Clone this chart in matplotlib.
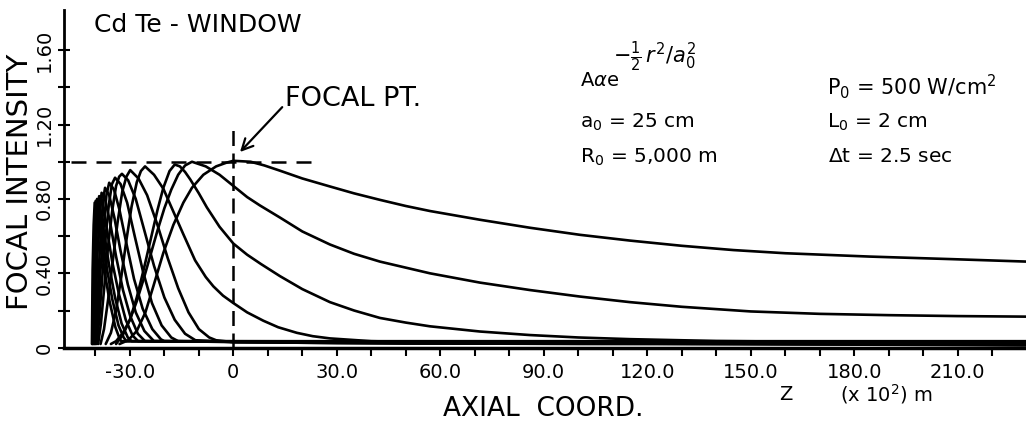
import matplotlib
matplotlib.use("Agg")
import matplotlib.pyplot as plt
from matplotlib.ticker import FixedLocator, FuncFormatter

# Axial intensity profiles, one per 2.5 s step (z in units of 100 m)
P0_Z = [-33, -30.5, -28, -25.5, -23.2, -20.3, -17.4, -14.5, -12, -8.7, -5, -2, 0, 5, 9, 13.5,
        20, 28, 35, 42.5, 50, 57, 71.5, 86, 100.5, 115, 130, 145, 160, 184.5, 208.7, 230]
P0_I = [0.02, 0.04, 0.09, 0.19, 0.33, 0.51, 0.66, 0.78, 0.86, 0.93, 0.975, 0.995, 1.005, 1.0,
        0.98, 0.952, 0.91, 0.867, 0.83, 0.795, 0.762, 0.735, 0.688, 0.645, 0.607, 0.576, 0.548,
        0.525, 0.508, 0.49, 0.476, 0.463]

P1_Z = [-35.5, -34, -32, -30, -28, -26, -24, -22, -20, -18, -16, -14, -12, -8, -4, 0, 4, 7.7,
        13.5, 20, 28, 35, 42.5, 57, 71.5, 86, 100.5, 115, 130, 150, 170, 190, 210, 230]
P1_I = [0.02, 0.035, 0.08, 0.15, 0.25, 0.37, 0.5, 0.63, 0.75, 0.85, 0.93, 0.98, 1.0, 0.975,
        0.93, 0.87, 0.81, 0.765, 0.70, 0.625, 0.555, 0.505, 0.463, 0.40, 0.35, 0.31, 0.275,
        0.245, 0.22, 0.195, 0.182, 0.175, 0.17, 0.167]

P2_Z = [-34, -32, -30, -28, -26, -24, -22, -20.3, -18.5, -17, -15.5, -14, -12.5, -10, -7.7, -4,
        0, 4, 8, 13.5, 20, 28, 35, 42.5, 50, 57, 71.5, 86, 100, 115, 140, 180, 230]
P2_I = [0.02, 0.07, 0.15, 0.27, 0.42, 0.58, 0.74, 0.86, 0.95, 0.985, 0.975, 0.945, 0.905, 0.83,
        0.755, 0.65, 0.56, 0.5, 0.45, 0.385, 0.315, 0.245, 0.2, 0.16, 0.135, 0.115, 0.087,
        0.068, 0.055, 0.046, 0.036, 0.03, 0.028]

P3_Z = [-37, -35.5, -34, -32.5, -31, -29.5, -28, -26.8, -25.6, -23, -20.3, -18.3, -14.5, -11.1,
        -8, -5.8, -3, 0, 4, 8.7, 13, 18.4, 23, 28, 40, 60, 100, 160, 230]
P3_I = [0.02, 0.08, 0.2, 0.38, 0.58, 0.76, 0.89, 0.95, 0.975, 0.93, 0.855, 0.77, 0.61, 0.47,
        0.38, 0.33, 0.28, 0.24, 0.19, 0.145, 0.11, 0.08, 0.062, 0.05, 0.035, 0.028, 0.025,
        0.022, 0.02]

P4_Z = [-38.5, -37.5, -36.3, -35, -33.6, -32.2, -31, -29.9, -27.5, -25, -22, -19, -16, -13, -10,
        -7, -5, 0, 30, 100, 230]
P4_I = [0.02, 0.1, 0.26, 0.46, 0.67, 0.84, 0.92, 0.955, 0.91, 0.82, 0.66, 0.48, 0.32, 0.19, 0.1,
        0.055, 0.04, 0.03, 0.025, 0.02, 0.018]

P5_Z = [-39.2, -38.4, -37.4, -36.3, -35.1, -34, -33.1, -32.3, -30.5, -28.3, -25.8, -23, -20,
        -17, -14, -11, 0, 50, 230]
P5_I = [0.02, 0.13, 0.33, 0.55, 0.74, 0.87, 0.92, 0.935, 0.9, 0.8, 0.63, 0.44, 0.27, 0.15,
        0.075, 0.04, 0.03, 0.022, 0.02]

P6_Z = [-39.6, -38.9, -38.0, -37.0, -36.1, -35.2, -34.3, -32.7, -30.8, -28.6, -26.2, -23.6,
        -20.8, -18, -16, 0, 230]
P6_I = [0.02, 0.15, 0.38, 0.6, 0.77, 0.88, 0.914, 0.88, 0.78, 0.6, 0.41, 0.24, 0.12, 0.055,
        0.035, 0.03, 0.025]

P7_Z = [-39.9, -39.2, -38.5, -37.6, -36.8, -36, -34.6, -33, -31, -28.8, -26.3, -23.5, -21, -20, 230]
P7_I = [0.02, 0.18, 0.42, 0.65, 0.82, 0.887, 0.85, 0.74, 0.56, 0.37, 0.21, 0.1, 0.045, 0.035, 0.015]

P8_Z = [-40.1, -39.5, -38.9, -38.2, -37.7, -37.2, -36, -34.5, -32.7, -30.6, -28.3, -25.8, -23, 230]
P8_I = [0.02, 0.2, 0.46, 0.68, 0.8, 0.86, 0.82, 0.7, 0.52, 0.34, 0.19, 0.09, 0.035, 0.03]

P9_Z = [-40.3, -39.9, -39.4, -38.8, -38.2, -37.1, -35.7, -34, -32, -29.9, -27.7, -25.6, 230]
P9_I = [0.02, 0.24, 0.5, 0.72, 0.833, 0.79, 0.67, 0.49, 0.31, 0.17, 0.075, 0.035, 0.012]

P10_Z = [-40.5, -40.2, -39.8, -39.3, -38.9, -38, -36.7, -35.1, -33.2, -31.2, -29.2, -27.6, 230]
P10_I = [0.02, 0.28, 0.55, 0.75, 0.815, 0.77, 0.64, 0.46, 0.29, 0.15, 0.065, 0.035, 0.035]

P11_Z = [-40.7, -40.4, -40, -39.5, -38.7, -37.5, -36, -34.3, -32.4, -30.6, -29.5, 230]
P11_I = [0.02, 0.32, 0.6, 0.8, 0.76, 0.62, 0.44, 0.27, 0.13, 0.055, 0.035, 0.02]

P12_Z = [-40.9, -40.6, -40.3, -39.9, -39.1, -38.1, -36.7, -35.1, -33.3, -31.8, -31, 230]
P12_I = [0.02, 0.38, 0.65, 0.79, 0.75, 0.61, 0.43, 0.26, 0.12, 0.055, 0.035, 0.025]

P13_Z = [-41.0, -40.8, -40.5, -40.2, -39.5, -38.6, -37.4, -35.9, -34.2, -33, -32.5, 230]
P13_I = [0.02, 0.42, 0.66, 0.78, 0.74, 0.6, 0.42, 0.25, 0.11, 0.05, 0.035, 0.03]

PROFILES = [(P0_Z, P0_I), (P1_Z, P1_I), (P2_Z, P2_I), (P3_Z, P3_I), (P4_Z, P4_I),
            (P5_Z, P5_I), (P6_Z, P6_I), (P7_Z, P7_I), (P8_Z, P8_I), (P9_Z, P9_I),
            (P10_Z, P10_I), (P11_Z, P11_I), (P12_Z, P12_I), (P13_Z, P13_I)]

# Reference lines through the focal point
FOCAL_LEVEL_Z = [-47, 24]
FOCAL_LEVEL_I = [1.0, 1.0]
FOCAL_PLANE_Z = [0, 0]
FOCAL_PLANE_I = [0, 1.21]

X_TICKS = list(range(-40, 231, 10))
X_LABELED = [-30, 0, 30, 60, 90, 120, 150, 180, 210]
Y_TICKS = [0, 0.2, 0.4, 0.6, 0.8, 1.0, 1.2, 1.4, 1.6]
Y_LABELS = {0: "0", 0.4: "0.40", 0.8: "0.80", 1.2: "1.20", 1.6: "1.60"}

W, H = 1026, 429
plt.rcParams["font.family"] = ["DejaVu Sans"]
plt.rcParams["mathtext.fontset"] = "dejavusans"

fig = plt.figure(figsize=(W / 100, H / 100), dpi=100)
ax = fig.add_axes([64 / W, 81.3 / H, 962 / W, 337.7 / H])


def px(x, y):
    """Figure fraction from pixel position (origin top-left)."""
    return x / W, 1 - y / H


for z, inten in PROFILES:
    ax.plot(z, inten, color="black", lw=1.9, solid_joinstyle="round", solid_capstyle="round")

ax.plot(FOCAL_LEVEL_Z, FOCAL_LEVEL_I, color="black", lw=1.8, dashes=(6, 4))
ax.plot(FOCAL_PLANE_Z, FOCAL_PLANE_I, color="black", lw=1.8, dashes=(6, 3))

ax.set_xlim(-49.1, 229.8)
ax.set_ylim(0, 1.816)
for side in ("top", "right"):
    ax.spines[side].set_visible(False)
ax.spines["left"].set_linewidth(2)
ax.spines["bottom"].set_linewidth(2.5)

ax.xaxis.set_major_locator(FixedLocator(X_TICKS))
ax.xaxis.set_major_formatter(FuncFormatter(
    lambda v, pos: ("0" if round(v) == 0 else f"{v:.1f}") if round(v) in X_LABELED else ""))
ax.yaxis.set_major_locator(FixedLocator(Y_TICKS))
ax.yaxis.set_major_formatter(FuncFormatter(lambda v, pos: Y_LABELS.get(round(v, 1), "")))
ax.tick_params(axis="x", direction="out", length=6, width=1.5, pad=5, labelsize=14)
ax.tick_params(axis="y", direction="inout", length=9, width=1.5, pad=3, labelsize=14,
               labelrotation=90)
for lab in ax.get_yticklabels():
    lab.set_va("center")

fig.text(*px(20, 182), "FOCAL INTENSITY", rotation=90, ha="center", va="center", fontsize=21)
fig.text(*px(94, 25), "Cd Te - WINDOW", ha="left", va="center", fontsize=18)
fig.text(*px(543, 409), "AXIAL  COORD.", ha="center", va="center", fontsize=19)
fig.text(*px(786, 394), "Z", ha="center", va="center", fontsize=14)
fig.text(*px(840, 394), r"(x 10$^2$) m", ha="left", va="center", fontsize=14)

ax.annotate("FOCAL PT.", xy=px(240, 152), xycoords="figure fraction",
            xytext=px(285, 99), textcoords="figure fraction", fontsize=19.5,
            ha="left", va="center",
            arrowprops=dict(arrowstyle="->", lw=1.6, color="black",
                            shrinkA=0, shrinkB=0, mutation_scale=20,
                            relpos=(0, 0.3)))

fig.text(*px(580, 81), r"A$\alpha$e", ha="left", va="center", fontsize=14)
fig.text(*px(613, 57), r"$-\frac{1}{2}\,r^2/a_0^2$", ha="left", va="center", fontsize=15)
fig.text(*px(580, 122), r"a$_0$ = 25 cm", ha="left", va="center", fontsize=14.5)
fig.text(*px(580, 157), r"R$_0$ = 5,000 m", ha="left", va="center", fontsize=14.5)
fig.text(*px(827, 87), r"P$_0$ = 500 W/cm$^2$", ha="left", va="center", fontsize=15)
fig.text(*px(827, 122), r"L$_0$ = 2 cm", ha="left", va="center", fontsize=14.5)
fig.text(*px(828, 156), r"$\Delta$t = 2.5 sec", ha="left", va="center", fontsize=14.5)

fig.savefig("out.png", dpi=100)
